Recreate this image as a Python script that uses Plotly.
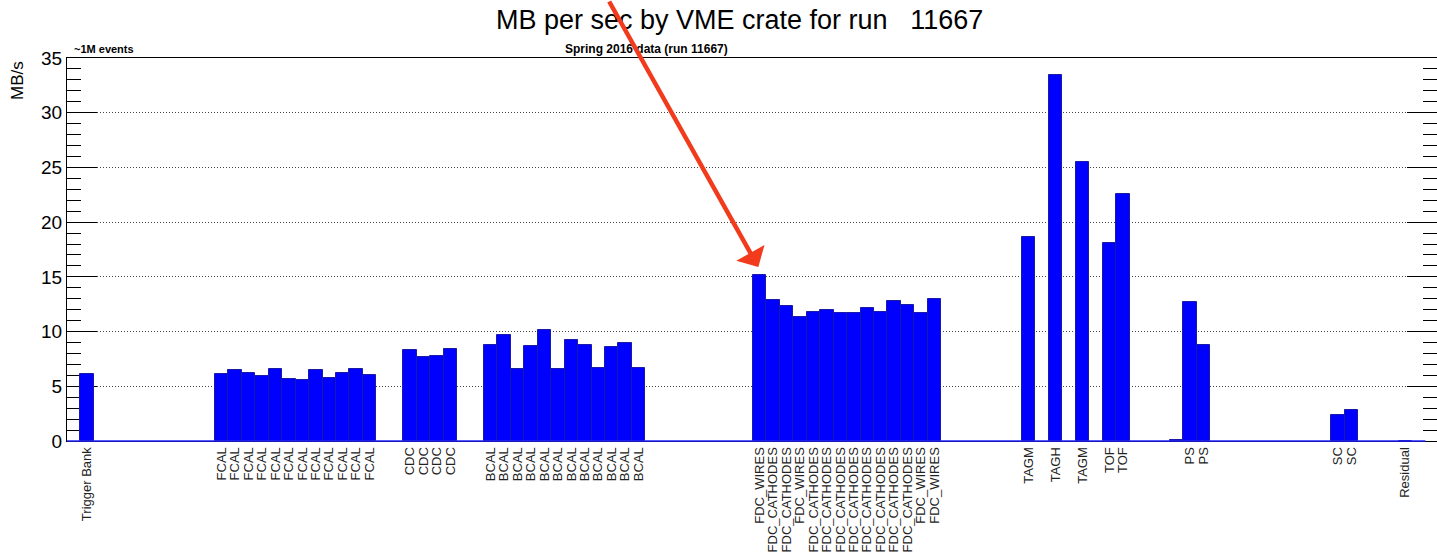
import plotly.graph_objects as go

# ROOT-style histogram: 101 bins, only some carry a crate label
n_bins = 101

trigger_bins = [1]
trigger_labels = ["Trigger Bank"]
trigger_vals = [6.1]

fcal_bins = list(range(11, 23))
fcal_labels = ["FCAL"] * 12
fcal_vals = [6.08, 6.5, 6.17, 5.9, 6.6, 5.63, 5.54, 6.5, 5.72, 6.17, 6.6, 5.99]

cdc_bins = list(range(25, 29))
cdc_labels = ["CDC"] * 4
cdc_vals = [8.34, 7.7, 7.79, 8.43]

bcal_bins = list(range(31, 43))
bcal_labels = ["BCAL"] * 12
bcal_vals = [8.8, 9.72, 6.54, 8.71, 10.17, 6.54, 9.26, 8.8, 6.63, 8.62, 8.98, 6.63]

fdc_bins = list(range(51, 65))
fdc_labels = ["FDC_WIRES", "FDC_CATHODES", "FDC_CATHODES", "FDC_WIRES",
              "FDC_CATHODES", "FDC_CATHODES", "FDC_CATHODES", "FDC_CATHODES",
              "FDC_CATHODES", "FDC_CATHODES", "FDC_CATHODES", "FDC_CATHODES",
              "FDC_WIRES", "FDC_WIRES"]
fdc_vals = [15.15, 12.9, 12.34, 11.33, 11.79, 11.98, 11.7, 11.7, 12.16, 11.79,
            12.8, 12.44, 11.7, 12.99]

tag_bins = [71, 73, 75, 77, 78]
tag_labels = ["TAGM", "TAGH", "TAGM", "TOF", "TOF"]
tag_vals = [18.63, 33.45, 25.5, 18.1, 22.6]

ps_bins = [82, 83, 84]
ps_labels = ["", "PS", "PS"]
ps_vals = [0.12, 12.67, 8.77]

sc_bins = [94, 95, 99]
sc_labels = ["SC", "SC", "Residual"]
sc_vals = [2.36, 2.81, 0.0]

bins = trigger_bins + fcal_bins + cdc_bins + bcal_bins + fdc_bins + tag_bins + ps_bins + sc_bins
labels = trigger_labels + fcal_labels + cdc_labels + bcal_labels + fdc_labels + tag_labels + ps_labels + sc_labels
vals = trigger_vals + fcal_vals + cdc_vals + bcal_vals + fdc_vals + tag_vals + ps_vals + sc_vals

font = "Liberation Sans, Arial, sans-serif"

fig = go.Figure()
fig.add_trace(go.Bar(
    x=bins, y=vals, width=1.0,
    marker=dict(color="#0000ff", line=dict(color="#1a1aa8", width=1)),
    hoverinfo="x+y",
))

fig.update_layout(
    width=1437, height=553,
    margin=dict(l=67, r=0, t=58, b=112, autoexpand=False),
    paper_bgcolor="white", plot_bgcolor="white",
    showlegend=False, bargap=0,
    font=dict(family=font, color="black"),
    xaxis=dict(
        range=[-0.5, -0.5 + 1370 / 13.45],
        tickvals=[b for b, l in zip(bins, labels) if l],
        ticktext=[l for l in labels if l],
        tickangle=-90, ticks="", tickfont=dict(size=13, color="#222"),
        showgrid=False, zeroline=False, automargin=False,
        showline=True, linecolor="black", linewidth=1, mirror=True,
        layer="below traces",
    ),
    yaxis=dict(
        range=[0, 35], dtick=5, tick0=0,
        ticks="inside", ticklen=30, tickcolor="black", tickwidth=1,
        tickfont=dict(size=19, color="black"), automargin=False,
        minor=dict(dtick=1, ticks="inside", ticklen=14, tickcolor="black", showgrid=False),
        showgrid=True, gridcolor="#444", griddash="1px,2px", gridwidth=1,
        zeroline=False,
        showline=True, linecolor="black", linewidth=1, mirror="ticks",
        layer="below traces",
    ),
)

# histogram outline along zero, drawn over the axis line
fig.add_shape(type="line", xref="x", yref="paper",
              x0=-0.5, x1=n_bins - 0.5, y0=0, y1=0,
              line=dict(color="#2020ff", width=1.5), layer="above")

fig.add_annotation(text="MB per sec by VME crate for run\u00a0\u00a0\u00a011667",
                   xref="paper", yref="paper", x=(739 - 67) / 1370, y=(441 - 20) / 383,
                   xanchor="center", yanchor="middle", showarrow=False,
                   font=dict(size=27, color="black"))
fig.add_annotation(text="<b>Spring 2016 data (run 11667)</b>",
                   xref="paper", yref="paper", x=(646 - 67) / 1370, y=(441 - 49) / 383,
                   xanchor="center", yanchor="middle", showarrow=False,
                   font=dict(size=12, color="black"))
fig.add_annotation(text="<b>~1M events</b>",
                   xref="paper", yref="paper", x=(72 - 67) / 1370, y=(441 - 49) / 383,
                   xanchor="left", yanchor="middle", showarrow=False,
                   font=dict(size=11, color="black"))
fig.add_annotation(text="MB/s", textangle=-90,
                   xref="paper", yref="paper", x=(18 - 67) / 1370, y=(441 - 81) / 383,
                   xanchor="center", yanchor="middle", showarrow=False,
                   font=dict(size=17, color="black"))

# red arrow pointing at the first FDC_WIRES bin
fig.add_annotation(x=50.9, y=15.9, xref="x", yref="y", text="",
                   showarrow=True, axref="pixel", ayref="pixel", ax=-150, ay=-278,
                   arrowhead=1, arrowsize=1.2, arrowwidth=4.5, arrowcolor="#f23b1d")

fig.write_html("out.html", config={"displayModeBar": False},
               post_script="document.body.style.margin='0';")
